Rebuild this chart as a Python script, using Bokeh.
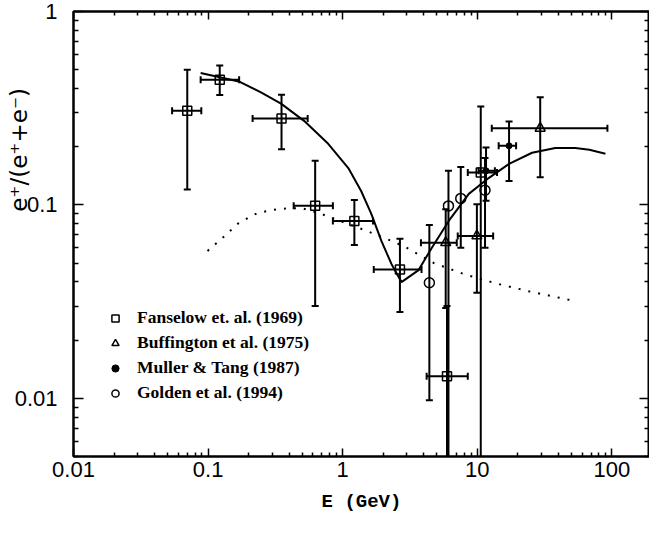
import math
from bokeh.plotting import figure
from bokeh.models import (LogAxis, FixedTicker, ColumnDataSource, Legend, LegendItem,
                          Range1d, CustomJSTickFormatter)
from bokeh.embed import file_html
from bokeh.resources import INLINE

# ---------------- data ----------------
# Fanselow et al. (1969) - open squares
FAN_E    = [0.070, 0.122, 0.351, 0.624, 1.22, 2.66, 5.95, 10.6]
FAN_R    = [0.307, 0.444, 0.280, 0.099, 0.0826, 0.0463, 0.0130, 0.147]
FAN_R_LO = [0.120, 0.370, 0.194, 0.030, 0.062, 0.0279, 0.001, 0.001]
FAN_R_HI = [0.500, 0.525, 0.371, 0.169, 0.106, 0.0669, 0.030, 0.323]
FAN_E_LO = [0.054, 0.088, 0.214, 0.432, 0.845, 1.70, 4.20, 8.49]
FAN_E_HI = [0.089, 0.170, 0.549, 0.845, 1.68, 3.85, 8.49, 14.0]

# Buffington et al. (1975) - open triangles
BUF_E    = [5.82, 9.92, 29.3]
BUF_R    = [0.0638, 0.0691, 0.249]
BUF_R_LO = [0.0293, 0.0351, 0.139]
BUF_R_HI = [0.095, 0.1008, 0.360]
BUF_E_LO = [3.81, 7.15, 12.8]
BUF_E_HI = [7.03, 13.1, 92.5]

# Muller & Tang (1987) - filled dots
MUL_E    = [11.6, 17.2]
MUL_R    = [0.150, 0.202]
MUL_R_LO = [0.105, 0.133]
MUL_R_HI = [0.198, 0.270]
MUL_E_LO = [10.2, 14.4]
MUL_E_HI = [13.5, 19.4]

# Golden et al. (1994) - open circles
GOL_E    = [4.40, 6.10, 7.53, 11.4]
GOL_R    = [0.0396, 0.0988, 0.108, 0.119]
GOL_R_LO = [0.00977, 0.001, 0.0601, 0.060]
GOL_R_HI = [0.0788, 0.150, 0.157, 0.175]

# model curve (solid)
MODEL_E = [0.088, 0.169, 0.247, 0.348, 0.516, 0.78, 1.10, 1.37, 1.63, 1.94, 2.30, 2.73,
           3.66, 4.58, 6.13, 8.64, 12.2, 17.2, 25.5, 37.9, 53.4, 67.9, 89.4]
MODEL_R = [0.481, 0.435, 0.382, 0.334, 0.272, 0.207, 0.155, 0.118, 0.0898, 0.065, 0.0495, 0.0399,
           0.046, 0.0599, 0.0826, 0.114, 0.138, 0.163, 0.186, 0.197, 0.197, 0.193, 0.184]

# secondary curve (dotted)
SEC_E = [0.099, 0.128, 0.169, 0.234, 0.336, 0.49, 0.692, 1.10, 1.72, 2.83, 4.73, 7.93, 13.5, 23.8, 49.0]
SEC_R = [0.0578, 0.0675, 0.0807, 0.091, 0.0953, 0.0965, 0.0898, 0.0797, 0.0708, 0.0613, 0.0501,
         0.0439, 0.0394, 0.0358, 0.0322]

X_TICKS = [0.01, 0.1, 1, 10, 100]
X_TICK_LABELS = ["0.01", "0.1", "1", "10", "100"]
Y_TICKS = [0.01, 0.1, 1]
Y_TICK_LABELS = ["0.01", "0.1", "1"]

X_LABEL = "E (GeV)"
Y_LABEL = "e\u207a/(e\u207a+e\u207b)"

LEGEND_LABELS = ["Fanselow et. al. (1969)", "Buffington et al. (1975)",
                 "Muller & Tang (1987)", "Golden et al. (1994)"]

# ---------------- figure ----------------
X_MIN, X_MAX = 0.01, 190.0
Y_MIN, Y_MAX = 0.005, 1.0
W, H = 649, 530

p = figure(width=W, height=H, x_axis_type="log", y_axis_type="log",
           x_range=Range1d(X_MIN, X_MAX), y_range=Range1d(Y_MIN, Y_MAX),
           output_backend="svg", toolbar_location=None,
           min_border_left=73, min_border_right=0, min_border_top=11, min_border_bottom=74)
p.xgrid.visible = False
p.ygrid.visible = False
p.outline_line_color = "black"
p.outline_line_width = 2
p.background_fill_color = "white"
p.border_fill_color = "white"


def minor_list(lo_exp, hi_exp):
    out = []
    for e in range(lo_exp, hi_exp):
        for m in range(2, 10):
            out.append(m * 10.0 ** e)
    return out


xticker = FixedTicker(ticks=X_TICKS, minor_ticks=minor_list(-2, 3))
yticker = FixedTicker(ticks=Y_TICKS, minor_ticks=minor_list(-3, 0))

LABEL_FONT = "Liberation Sans"


def style_axis(ax, major_in, minor_in):
    ax.axis_line_width = 2
    ax.axis_line_color = "black"
    ax.major_tick_in = major_in
    ax.major_tick_out = 0
    ax.minor_tick_in = minor_in
    ax.minor_tick_out = 0
    ax.major_tick_line_width = 1.5
    ax.minor_tick_line_width = 1.5
    ax.major_tick_line_color = "black"
    ax.minor_tick_line_color = "black"


xa = p.xaxis[0]
xa.ticker = xticker
xa.major_label_overrides = dict(zip(X_TICKS, X_TICK_LABELS))
style_axis(xa, 8, 4)
xa.major_label_text_font = LABEL_FONT
xa.major_label_text_font_size = "22px"
xa.major_label_text_color = "black"
xa.major_label_standoff = 5
xa.axis_label = X_LABEL
xa.axis_label_text_font = "Liberation Mono"
xa.axis_label_text_font_style = "bold"
xa.axis_label_text_font_size = "19px"
xa.axis_label_text_color = "black"
xa.axis_label_standoff = 11

ya = p.yaxis[0]
ya.ticker = yticker
ya.major_label_overrides = dict(zip(Y_TICKS, Y_TICK_LABELS))
style_axis(ya, 10, 5)
ya.major_label_text_font = LABEL_FONT
ya.major_label_text_font_size = "22px"
ya.major_label_text_color = "black"
ya.major_label_standoff = 16
# the original's label sits high and overlaps the tick labels: leading no-break
# spaces move the visible text up along the axis, a negative standoff moves it in
ya.axis_label = "\u00a0" * 23 + Y_LABEL
ya.axis_label_text_font = "DejaVu Sans"
ya.axis_label_text_font_style = "normal"
ya.axis_label_text_font_size = "23px"
ya.axis_label_text_color = "black"
ya.axis_label_standoff = -20

blank = CustomJSTickFormatter(code="return ''")
top = LogAxis(ticker=xticker, formatter=blank, major_label_text_font_size="0px",
              major_label_standoff=0)
style_axis(top, 8, 4)
p.add_layout(top, "above")
right = LogAxis(ticker=yticker, formatter=blank, major_label_text_font_size="0px",
                major_label_standoff=0)
style_axis(right, 10, 5)
p.add_layout(right, "right")

# ---------------- curves ----------------
p.line(MODEL_E, MODEL_R, line_color="black", line_width=2)
p.line(SEC_E, SEC_R, line_color="black", line_width=2, line_dash="2 8")

# ---------------- data with error bars ----------------
CAP = 7
LW = 2


def errbars(src, has_x):
    p.segment(x0="E", y0="R_LO", x1="E", y1="R_HI", source=src, line_color="black", line_width=LW)
    p.scatter(x="E", y="R_HI", source=src, marker="dash", size=CAP, line_color="black", line_width=LW)
    p.scatter(x="E", y="R_LO", source=src, marker="dash", size=CAP, line_color="black", line_width=LW)
    if has_x:
        p.segment(x0="E_LO", y0="R", x1="E_HI", y1="R", source=src, line_color="black", line_width=LW)
        p.scatter(x="E_LO", y="R", source=src, marker="dash", angle=math.pi / 2, size=CAP,
                  line_color="black", line_width=LW)
        p.scatter(x="E_HI", y="R", source=src, marker="dash", angle=math.pi / 2, size=CAP,
                  line_color="black", line_width=LW)


fan = ColumnDataSource(dict(E=FAN_E, R=FAN_R, R_LO=FAN_R_LO, R_HI=FAN_R_HI, E_LO=FAN_E_LO, E_HI=FAN_E_HI))
buf = ColumnDataSource(dict(E=BUF_E, R=BUF_R, R_LO=BUF_R_LO, R_HI=BUF_R_HI, E_LO=BUF_E_LO, E_HI=BUF_E_HI))
mul = ColumnDataSource(dict(E=MUL_E, R=MUL_R, R_LO=MUL_R_LO, R_HI=MUL_R_HI, E_LO=MUL_E_LO, E_HI=MUL_E_HI))
gol = ColumnDataSource(dict(E=GOL_E, R=GOL_R, R_LO=GOL_R_LO, R_HI=GOL_R_HI))

errbars(fan, True)
errbars(buf, True)
errbars(mul, True)
errbars(gol, False)

r_fan = p.scatter(x="E", y="R", source=fan, marker="square", size=9, fill_color=None,
                  line_color="black", line_width=1.5)
r_buf = p.scatter(x="E", y="R", source=buf, marker="triangle", size=10, fill_color=None,
                  line_color="black", line_width=1.5)
r_mul = p.scatter(x="E", y="R", source=mul, marker="circle", size=6, fill_color="black",
                  line_color="black", line_width=1)
r_gol = p.scatter(x="E", y="R", source=gol, marker="circle", size=10, fill_color=None,
                  line_color="black", line_width=1.5)

legend = Legend(items=[LegendItem(label=LEGEND_LABELS[0], renderers=[r_fan]),
                       LegendItem(label=LEGEND_LABELS[1], renderers=[r_buf]),
                       LegendItem(label=LEGEND_LABELS[2], renderers=[r_mul]),
                       LegendItem(label=LEGEND_LABELS[3], renderers=[r_gol])],
                location=(33, 51), orientation="vertical", padding=0, margin=0, spacing=0,
                glyph_width=18, glyph_height=18, label_height=25, label_standoff=13,
                label_text_font="Liberation Serif", label_text_font_style="bold",
                label_text_font_size="17.5px", label_text_color="black",
                border_line_color=None, background_fill_alpha=0)
p.add_layout(legend)

open("out.html", "w").write(file_html(p, INLINE))
